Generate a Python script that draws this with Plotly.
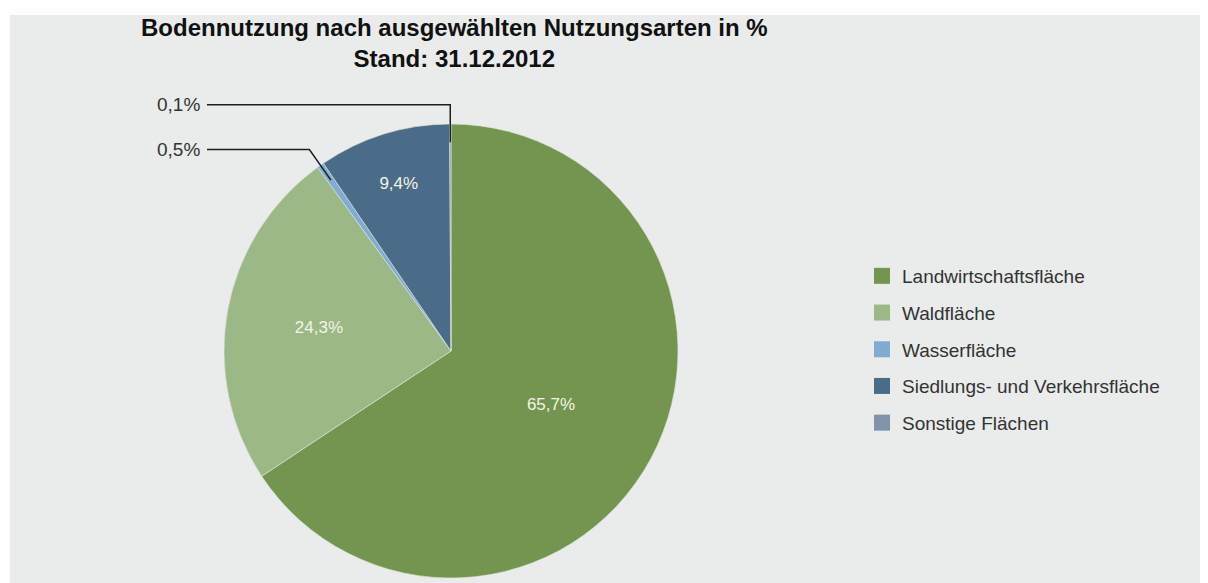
import math
import plotly.graph_objects as go

# Bodennutzung nach Nutzungsarten, Stand 31.12.2012 (in %)
categories = ['Landwirtschaftsfläche', 'Waldfläche', 'Wasserfläche',
              'Siedlungs- und Verkehrsfläche', 'Sonstige Flächen']
shares = [65.7, 24.3, 0.5, 9.4, 0.1]
colors = ['#74954f', '#9cb886', '#80abd3', '#4a6c88', '#8093a8']

title_lines = ['Bodennutzung nach ausgewählten Nutzungsarten in %',
               'Stand: 31.12.2012']

# the page puts the figure 8px in from the top-left corner
OFF = 8
FW, FH = 1200, 575
FONT = 'Liberation Sans, Arial, sans-serif'

def px(x, y):
    """page pixel -> paper coordinates"""
    return (x - OFF) / FW, 1 - (y - OFF) / FH

# pie geometry in page pixels
cx, cy, r = 451, 351, 227
x0, y1 = px(cx - r, cy - r)
x1, y0 = px(cx + r, cy + r)
y0 = max(y0, 0)

def fmt(v):
    return f'{v:.1f}'.replace('.', ',') + '%'

inside_text = [fmt(v) if v >= 1 else '' for v in shares]

fig = go.Figure()
fig.add_trace(go.Pie(
    labels=categories,
    values=shares,
    text=inside_text,
    textinfo='text',
    textposition='inside',
    insidetextorientation='horizontal',
    insidetextfont=dict(family=FONT, size=17, color='#f4f4e6'),
    marker=dict(colors=colors, line=dict(color='#dfe6dc', width=0.6)),
    sort=False,
    direction='clockwise',
    rotation=0,
    domain=dict(x=[x0, x1], y=[y0, y1]),
    showlegend=False,
    hoverinfo='label+percent',
))

# legend entries (square swatches)
for name, c in zip(categories, colors):
    fig.add_trace(go.Scatter(
        x=[None], y=[None], mode='markers', name=name, legendgroup=name,
        marker=dict(symbol='square', size=20, color=c),
    ))

px0, py1 = px(10, 15)
shapes = [dict(type='rect', xref='paper', yref='paper', x0=px0, x1=1.01,
               y0=-0.01, y1=py1, fillcolor='#e9ecea', line=dict(width=0),
               layer='below')]
annotations = [dict(
    x=px(454, 0)[0], y=px(0, 43)[1], xref='paper', yref='paper',
    xanchor='center', yanchor='middle', showarrow=False,
    text='<br>'.join(f'<b>{t}</b>' for t in title_lines),
    font=dict(family=FONT, size=24, color='#111111'))]

# leader lines for the small slices
total = sum(shares)
cum = 0
for v in shares:
    mid = (cum + v / 2) / total * 2 * math.pi
    cum += v
    if v >= 1:
        continue
    sx, sy = math.sin(mid), -math.cos(mid)
    p0 = (cx + 0.92 * r * sx, cy + 0.92 * r * sy)
    p1 = (cx + 1.085 * r * sx, cy + 1.085 * r * sy)
    p2 = (207, p1[1])
    pts = [px(*p) for p in (p0, p1, p2)]
    path = 'M{},{} L{},{} L{},{}'.format(*[c for p in pts for c in p])
    shapes.append(dict(type='path', xref='paper', yref='paper', path=path,
                       line=dict(color='#1e1e1e', width=1.5)))
    annotations.append(dict(
        x=px(202, 0)[0], y=pts[2][1], xref='paper', yref='paper',
        xanchor='right', yanchor='middle', showarrow=False, text=fmt(v),
        font=dict(family=FONT, size=19, color='#333333')))

lx, ly = px(862, 257)
fig.update_layout(
    width=FW, height=FH,
    margin=dict(l=0, r=0, t=0, b=0),
    paper_bgcolor='white',
    plot_bgcolor='rgba(0,0,0,0)',
    xaxis=dict(visible=False),
    yaxis=dict(visible=False),
    legend=dict(
        x=lx, y=ly, xanchor='left', yanchor='top',
        font=dict(family=FONT, size=19, color='#333333'),
        tracegroupgap=9, itemsizing='trace',
        bgcolor='rgba(0,0,0,0)',
    ),
    shapes=shapes,
    annotations=annotations,
)

fig.write_html('out.html')
